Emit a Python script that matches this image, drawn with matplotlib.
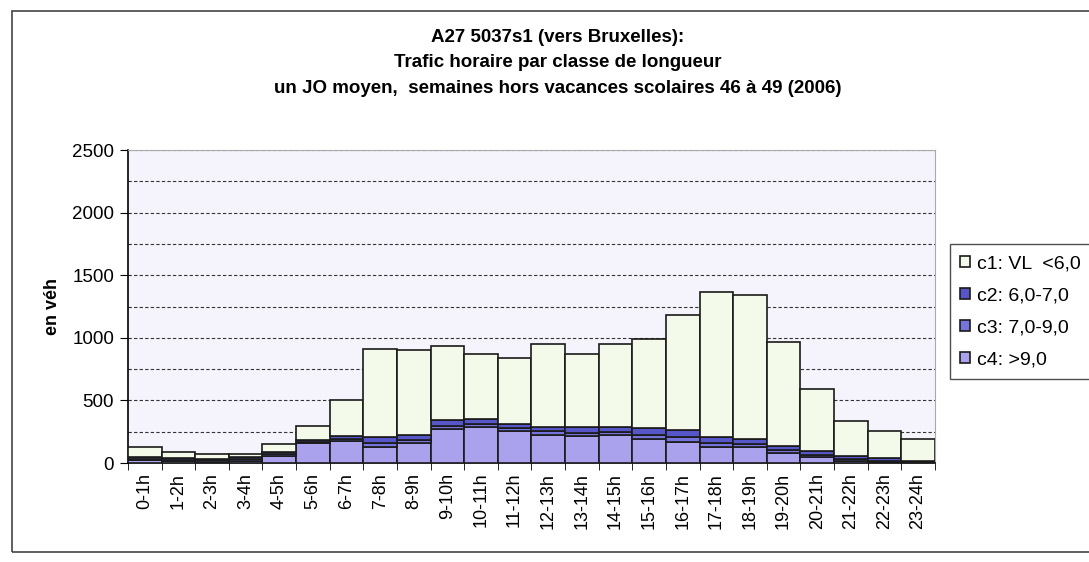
import matplotlib

matplotlib.use("Agg")
import matplotlib.pyplot as plt
import numpy as np

hours = [f"{h}-{h + 1}h" for h in range(24)]
c4 = [25, 15, 12, 20, 60, 160, 175, 130, 158, 270, 285, 258, 226, 213, 221, 195, 170, 128, 128, 80, 45, 15, 6, 4]
c3 = [8, 10, 10, 12, 12, 10, 18, 30, 27, 30, 27, 22, 27, 30, 28, 33, 38, 30, 27, 25, 22, 18, 14, 6]
c2 = [12, 15, 13, 18, 16, 15, 27, 45, 40, 45, 40, 32, 39, 42, 41, 50, 54, 47, 40, 35, 31, 27, 20, 10]
c1 = [80, 50, 35, 20, 64, 108, 280, 710, 680, 590, 518, 528, 658, 585, 660, 712, 918, 1160, 1145, 825, 492, 280, 220, 170]
labels = ["c1: VL  <6,0", "c2: 6,0-7,0", "c3: 7,0-9,0", "c4: >9,0"]

plt.rcParams["font.family"] = ["Liberation Sans", "DejaVu Sans"]

fig = plt.figure(figsize=(10.89, 5.62), dpi=100)
ax = fig.add_axes([0.1175, 0.176, 0.741, 0.557])
ax.set_facecolor("#f5f4fc")

x = np.arange(len(hours))
kw = dict(width=1.0, edgecolor="#1a1a1a", linewidth=1.2, zorder=3)
b4 = ax.bar(x, c4, color="#aaa2ec", **kw)
b3 = ax.bar(x, c3, bottom=np.array(c4), color="#7474dc", **kw)
b2 = ax.bar(x, c2, bottom=np.array(c4) + np.array(c3), color="#5656c8", **kw)
b1 = ax.bar(x, c1, bottom=np.array(c4) + np.array(c3) + np.array(c2), color="#f4faea", **kw)

ax.set_xlim(-0.5, 23.5)
ax.set_ylim(0, 2500)
ax.set_yticks(range(0, 2501, 500))
ax.set_yticks(range(250, 2500, 250), minor=True)
ax.tick_params(axis="y", which="minor", length=0)
ax.yaxis.grid(True, which="both", linestyle=(0, (3, 2)), color="#333333", linewidth=0.8, zorder=0)
ax.set_xticks(x)
ax.set_xticklabels(hours, rotation=90, fontsize=13)
ax.set_xticks(np.arange(-0.5, 24, 1), minor=True)
ax.tick_params(axis="x", which="major", length=0, pad=7)
ax.tick_params(axis="x", which="minor", length=5, direction="out")
ax.tick_params(axis="y", labelsize=13.5, length=6, pad=4)
ax.set_ylabel("en véh", fontsize=13, fontweight="bold", labelpad=8)

for side in ["top", "right"]:
    ax.spines[side].set_color("#aaaaaa")
    ax.spines[side].set_linewidth(0.8)
ax.spines["left"].set_linewidth(1.2)
ax.spines["bottom"].set_linewidth(1.2)

title_x = 0.512
fig.text(title_x, 0.934, "A27 5037s1 (vers Bruxelles):", ha="center", va="center",
         fontsize=13.5, fontweight="bold")
fig.text(title_x, 0.889, "Trafic horaire par classe de longueur", ha="center", va="center",
         fontsize=13.5, fontweight="bold")
fig.text(title_x, 0.843, "un JO moyen,  semaines hors vacances scolaires 46 à 49 (2006)",
         ha="center", va="center", fontsize=13.5, fontweight="bold")

leg = fig.legend([b1, b2, b3, b4], labels, loc="upper left", bbox_to_anchor=(0.872, 0.565),
                 borderaxespad=0, fontsize=14, frameon=True, fancybox=False,
                 edgecolor="#222222", handlelength=0.5, handleheight=0.5,
                 handletextpad=0.35, labelspacing=0.78, borderpad=0.55)
leg.get_frame().set_linewidth(1.0)

border = plt.Rectangle((0.011, 0.017), 1.2, 0.963, transform=fig.transFigure,
                       fill=False, edgecolor="#444444", linewidth=1.2)
fig.patches.append(border)

fig.savefig("out.png", dpi=100)
